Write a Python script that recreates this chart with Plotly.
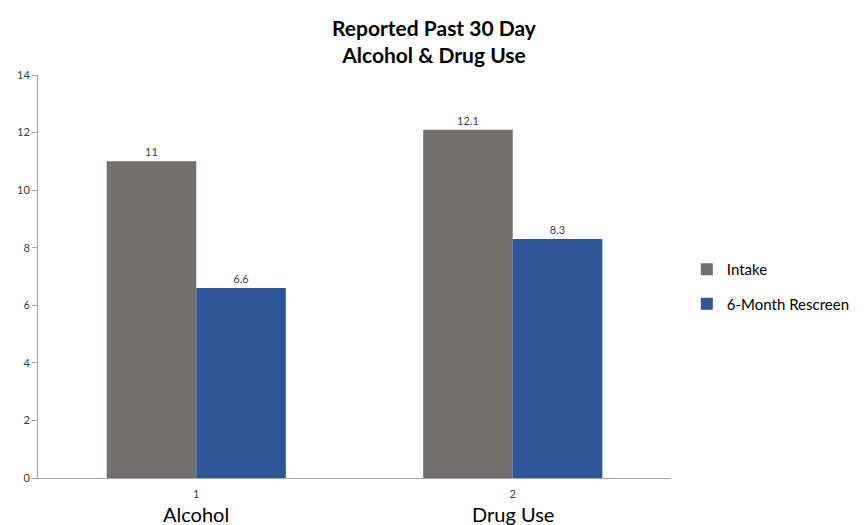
import plotly.graph_objects as go

# Chart data
categories = ["Alcohol", "Drug Use"]
category_numbers = ["1", "2"]
intake = [11, 12.1]
rescreen = [6.6, 8.3]
y_ticks = [0, 2, 4, 6, 8, 10, 12, 14]

FONT = "Lato, 'Open Sans', Arial, sans-serif"

fig = go.Figure()
fig.add_trace(go.Bar(
    name="Intake", legendgroup="a",
    x=category_numbers, y=intake,
    marker=dict(color="#736F6E", line=dict(width=0)),
    text=[f"{v:g}" for v in intake], textposition="outside",
    textfont=dict(size=11, color="#404040"),
    cliponaxis=False,
))
fig.add_trace(go.Bar(
    name="6-Month Rescreen", legendgroup="b",
    x=category_numbers, y=rescreen,
    marker=dict(color="#2E5597", line=dict(width=0)),
    text=[f"{v:g}" for v in rescreen], textposition="outside",
    textfont=dict(size=11, color="#404040"),
    cliponaxis=False,
))

# Category names set under the small numeric tick labels
for i, name in enumerate(categories):
    fig.add_annotation(
        x=i, xref="x", y=0, yref="paper",
        yanchor="top", yshift=-22, showarrow=False,
        text=name, font=dict(size=20, family=FONT, color="#000000"),
    )

# Two-line bold title above the plot area
fig.add_annotation(
    x=0.627, xref="paper", y=1, yref="paper",
    xanchor="center", yanchor="bottom", yshift=6, showarrow=False,
    text="<b>Reported Past 30 Day<br>Alcohol & Drug Use</b>",
    font=dict(size=21, family=FONT, color="#000000"),
)

fig.update_layout(
    width=867, height=525,
    margin=dict(l=38, r=193, t=75, b=47),
    paper_bgcolor="white", plot_bgcolor="white",
    font=dict(family=FONT, color="#000000"),
    barmode="group", bargap=0.434, bargroupgap=0,
    legend=dict(
        x=1.025, xanchor="left", y=0.475, yanchor="middle",
        font=dict(size=15, family=FONT, color="#000000"),
        tracegroupgap=12, itemwidth=30,
        bgcolor="rgba(0,0,0,0)",
    ),
    showlegend=True,
)

fig.update_xaxes(
    type="category", automargin=False,
    range=[-0.5, 1.5], ticklabelstandoff=6,
    tickfont=dict(size=11, family=FONT, color="#404040"),
    showline=True, linecolor="#A6A6A6", linewidth=1,
    ticks="", showgrid=False, zeroline=False,
)
fig.update_yaxes(
    range=[0, 14], tickvals=y_ticks, automargin=False,
    tickfont=dict(size=11, family=FONT, color="#404040"),
    showline=True, linecolor="#A6A6A6", linewidth=1,
    ticks="outside", ticklen=5, tickcolor="#A6A6A6",
    showgrid=False, zeroline=False,
)

fig.write_html("out.html")
